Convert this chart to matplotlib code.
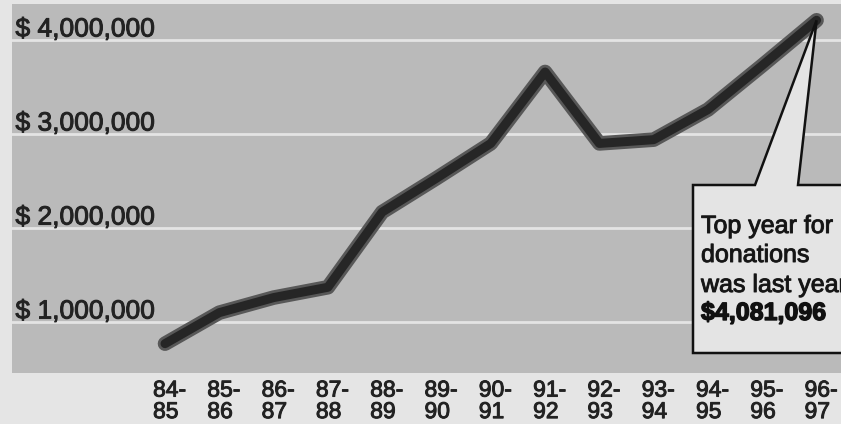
import matplotlib
matplotlib.use("Agg")
import matplotlib.pyplot as plt
from matplotlib.patches import Polygon
from matplotlib.transforms import offset_copy
import matplotlib.patheffects as pe
import numpy as np

plt.rcParams['font.family'] = ['Liberation Sans', 'DejaVu Sans']

years = ["84-\n85", "85-\n86", "86-\n87", "87-\n88", "88-\n89", "89-\n90", "90-\n91",
         "91-\n92", "92-\n93", "93-\n94", "94-\n95", "95-\n96", "96-\n97"]
donations = [0.77, 1.10, 1.26, 1.37, 2.17, 2.53, 2.90, 3.66, 2.90, 2.94, 3.26, 3.73, 4.21]  # millions
ytick_vals = [1, 2, 3, 4]
ytick_labels = ["$ 1,000,000", "$ 2,000,000", "$ 3,000,000", "$ 4,000,000"]
callout_lines = ["Top year for", "donations", "was last year:"]
callout_value = "$4,081,096"

W, H = 841, 424
fig = plt.figure(figsize=(W / 100, H / 100), dpi=100)
fig.patch.set_facecolor("#e5e5e5")

thick = [pe.withStroke(linewidth=0.7, foreground="#222222")]
bolder = [pe.withStroke(linewidth=1.0, foreground="#111111")]

ax = fig.add_axes([12 / W, (H - 373) / H, 1 - 12 / W, (373 - 4) / H])
ax.set_facecolor("#bababa")
x = np.arange(len(years))
ax.set_xlim(-2.818, 12.45)
ax.set_ylim(0.458, 4.383)

for v, lab in zip(ytick_vals, ytick_labels):
    ax.axhline(v, color="#e4e4e4", lw=2.0, zorder=1)
    ax.annotate(lab, xy=(0.0, v), xycoords=("axes fraction", "data"),
                xytext=(2.5, 2.5), textcoords="offset points",
                ha="left", va="baseline", fontsize=19, color="#222222", zorder=2,
                path_effects=thick)

ax.plot(x, donations, color="#585858", lw=10.5, solid_joinstyle="round",
        solid_capstyle="round", zorder=3)
ax.plot(x, donations, color="#262626", lw=6.5, solid_joinstyle="round",
        solid_capstyle="round", zorder=4)

for s in ax.spines.values():
    s.set_visible(False)
ax.set_yticks([])
ax.set_xticks(x)
ax.set_xticklabels(years, fontsize=16.5, color="#222222", linespacing=0.92, ha="left")
ax.tick_params(axis="x", length=0, pad=4)
for lbl in ax.get_xticklabels():
    lbl.set_transform(offset_copy(lbl.get_transform(), fig=fig, x=-12, y=0, units="dots"))
    lbl.set_path_effects(thick)

# callout box with pointer to the last point
fig.canvas.draw()
tip_disp = ax.transData.transform((x[-1], donations[-1]))
tip = fig.transFigure.inverted().transform(tip_disp)
def fp(px, py):
    return (px / W, 1 - py / H)
verts = [fp(693, 185), fp(755, 185), tuple(tip), fp(798, 185), fp(860, 185),
         fp(860, 353), fp(693, 353)]
poly = Polygon(verts, closed=True, transform=fig.transFigure, facecolor="#e4e4e4",
               edgecolor="#111111", lw=1.8, zorder=10)
fig.patches.append(poly)

ys = [233, 262, 292]
for t, yy in zip(callout_lines, ys):
    fig.text(701 / W, 1 - yy / H, t, fontsize=18, color="#151515",
             ha="left", va="baseline", zorder=11, path_effects=thick)
fig.text(701 / W, 1 - 320 / H, callout_value, fontsize=18, color="#111111",
         fontweight="bold", ha="left", va="baseline", zorder=11, path_effects=bolder)

fig.savefig("out.png", dpi=100, facecolor=fig.get_facecolor())
